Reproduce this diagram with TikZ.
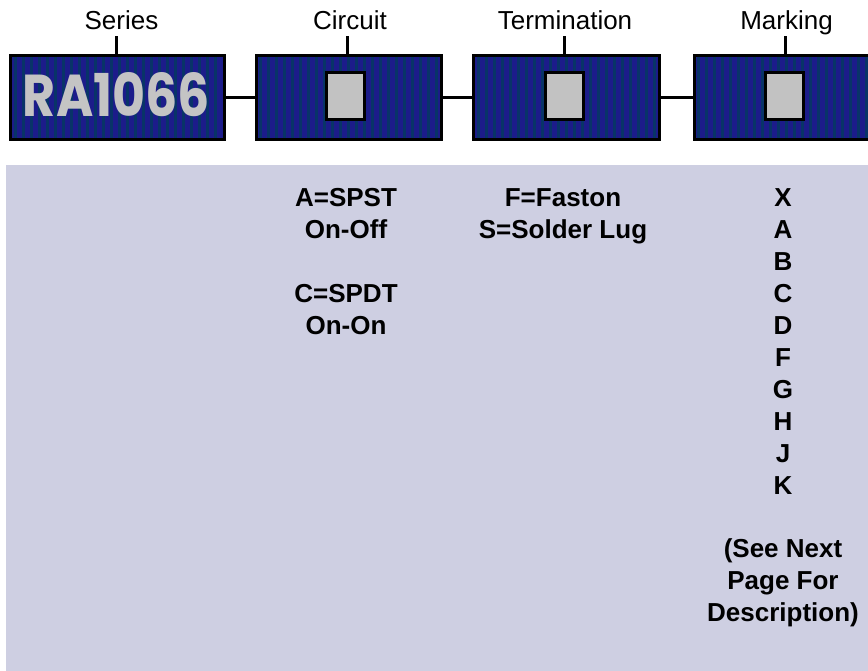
\documentclass[tikz,border=0pt]{standalone}
\usepackage{fontspec}
\setmainfont{Liberation Sans}
\newfontfamily\rafont{Poppins}
\definecolor{panel}{RGB}{206,207,226}
\definecolor{navy}{RGB}{28,28,138}
\definecolor{stripe}{RGB}{8,52,104}
\definecolor{chip}{RGB}{194,194,194}
\definecolor{ratext}{RGB}{196,196,196}
\begin{document}
\begin{tikzpicture}[x=1pt,y=-1pt,
  box/.style={draw=black, line width=3pt, fill=navy, inner sep=0pt, minimum height=84.5pt,
    path picture={\foreach \k in {0,...,25}{\fill[stripe] ([xshift=\k*8pt+3pt]path picture bounding box.south west) rectangle ([xshift=\k*8pt+6pt]path picture bounding box.north west);}}},
  chipbox/.style={draw=black, line width=3pt, fill=chip, inner sep=0pt, minimum width=38pt, minimum height=47pt},
  lab/.style={font=\fontsize{26}{30}\selectfont, inner sep=0pt, anchor=base},
  body/.style={font=\fontsize{26}{32}\selectfont\bfseries, inner sep=0pt, anchor=base},
  conn/.style={draw=black, line width=3pt},
  tickline/.style={draw=black, line width=3pt}
]
\useasboundingbox (0,0) rectangle (868,671);
\clip (0,0) rectangle (868,671);
% panel
\fill[panel] (6,165) rectangle (872,675);
% boxes
\node[box, minimum width=213.5pt] (series) at (117.25,97.75) {};
\node[box, minimum width=185.5pt] (circuit) at (348.75,97.75) {};
\node[box, minimum width=185.5pt] (term) at (566.5,97.75) {};
\node[box, minimum width=185.5pt] (mark) at (787,97.75) {};
% RA1066
\node[inner sep=0pt, text=ratext] (ra) at (116.5,95) {\resizebox{187pt}{44pt}{\rafont\bfseries RA1066}};
% chips
\node[chipbox] (csq) at (345.5,95.7) {};
\node[chipbox] (tsq) at (564.5,95.7) {};
\node[chipbox] (msq) at (784.5,95.7) {};
% connectors
\draw[conn] (series.east) -- (circuit.west);
\draw[conn] (circuit.east) -- (term.west);
\draw[conn] (term.east) -- (mark.west);
% labels
\node[lab] (lseries) at (121.5,30) {Series};
\node[lab] (lcircuit) at (350,30) {Circuit};
\node[lab] (lterm) at (565,30) {Termination};
\node[lab] (lmark) at (786.5,30) {Marking};
\draw[tickline] ([xshift=-1pt]series.north) -- ++(0,-18);
\draw[tickline] ([xshift=-1.5pt]circuit.north) -- ++(0,-18);
\draw[tickline] ([xshift=-2.5pt]term.north) -- ++(0,-18);
\draw[tickline] ([xshift=-2pt]mark.north) -- ++(0,-18);
% circuit column
\node[body] (c1) at (346,207) {A=SPST};
\node[body] (c2) at (346,238.9) {On-Off};
\node[body] (c3) at (346,302.7) {C=SPDT};
\node[body] (c4) at (346,334.6) {On-On};
% termination column
\node[body] (t1) at (563,207) {F=Faston};
\node[body] (t2) at (563,238.9) {S=Solder Lug};
% marking column
\foreach \t [count=\i from 0] in {X,A,B,C,D,F,G,H,J,K}
  \node[body] (mk\i) at (783,{207+31.9*\i}) {\t};
\node[body] (n1) at (783,{207+31.9*11}) {(See Next};
\node[body] (n2) at (783,{207+31.9*12}) {Page For};
\node[body] (n3) at (783,{207+31.9*13}) {Description)};
\end{tikzpicture}
\end{document}
